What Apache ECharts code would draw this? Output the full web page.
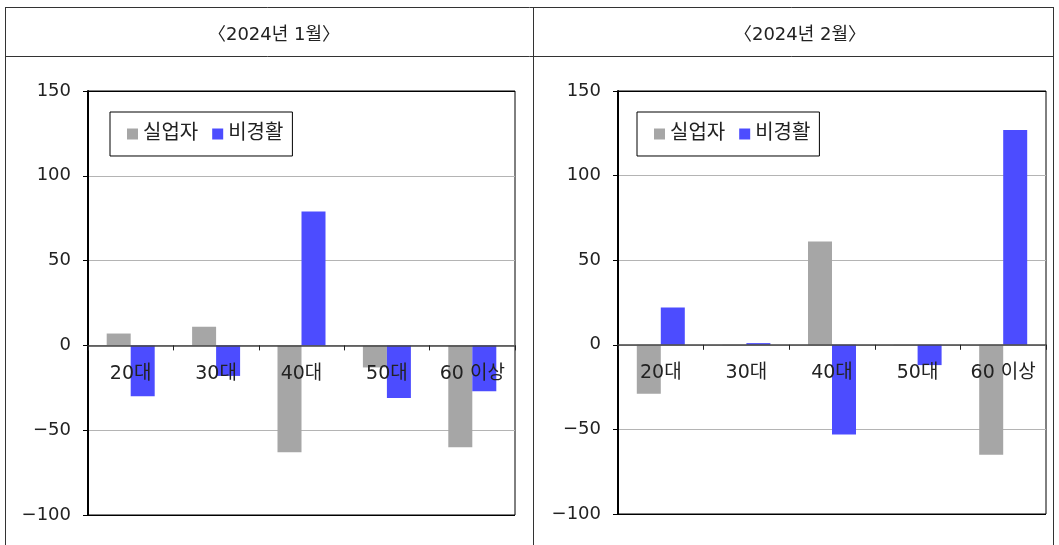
<!DOCTYPE html>
<html>
<head>
<meta charset="utf-8">
<script src="https://cdn.jsdelivr.net/npm/echarts@6/dist/echarts.min.js"></script>
<style>
  html, body { margin: 0; padding: 0; background: #fff; }
  #main { width: 1059px; height: 545px; }
</style>
</head>
<body>
<div id="main"></div>
<script>
// 연령대별 증감 (천명)
const categories = ['20대', '30대', '40대', '50대', '60 이상'];
const seriesNames = ['실업자', '비경활'];
const panelTitles = ['〈2024년 1월〉', '〈2024년 2월〉'];

const janUnemployed = [7, 11, -63, -13, -60];
const janInactive = [-30, -18, 79, -31, -27];
const febUnemployed = [-29, -0.6, 61, -0.6, -65];
const febInactive = [22, 1, -53, -12, 127];

const yMin = -100;
const yMax = 150;
const yStep = 50;

const FONT = '"DejaVu Sans", "Noto Sans CJK KR", sans-serif';
const GRAY = '#a6a6a6';
const BLUE = '#4c4cff';

// 두 패널의 그리드
const grids = [
  { left: 88, top: 91, width: 427, height: 424 },
  { left: 618, top: 91, width: 428, height: 423 }
];

function fmtY(v) {
  return v < 0 ? '\u2212' + (-v) : String(v);
}

function makeX(i) {
  // 가로축은 0 위치에 (v6 에서는 onZero 시 라벨이 아래에 남음)
  const zeroOffset = -grids[i].height * (0 - yMin) / (yMax - yMin);
  return {
    type: 'category',
    gridIndex: i,
    data: categories,
    position: 'bottom',
    offset: zeroOffset,
    z: 10,
    axisLine: { onZero: false, lineStyle: { color: '#444', width: 1.5 } },
    axisTick: { show: true, length: 5, inside: false, lineStyle: { color: '#222' } },
    axisLabel: { margin: 19, fontSize: 19, color: '#222', fontFamily: FONT, interval: 0 }
  }
}

function makeY(i) {
  return {
    type: 'value',
    gridIndex: i,
    min: yMin,
    max: yMax,
    interval: yStep,
    axisLine: { show: true, lineStyle: { color: '#000', width: 2 } },
    axisTick: { show: true, length: 5, lineStyle: { color: '#000' } },
    axisLabel: { margin: 17, fontSize: 18, color: '#222', fontFamily: FONT, formatter: fmtY },
    splitLine: {
      show: true,
      lineStyle: { color: ['#000', '#b4b4b4', '#b4b4b4', '#b4b4b4', '#b4b4b4', '#000'], width: 1 }
    }
  }
}

function makeLegend(left) {
  return {
    left: left,
    top: 112,
    orient: 'horizontal',
    data: seriesNames,
    icon: 'rect',
    itemWidth: 11,
    itemHeight: 11,
    itemGap: 14,
    padding: [12, 9, 12, 17],
    borderColor: '#000',
    borderWidth: 1,
    backgroundColor: '#fff',
    textStyle: { fontSize: 20, color: '#222', fontFamily: FONT }
  }
}

function makeBar(name, color, idx, values) {
  return {
    name: name,
    type: 'bar',
    xAxisIndex: idx,
    yAxisIndex: idx,
    data: values,
    barWidth: 24,
    barGap: '0%',
    itemStyle: { color: color },
    animation: false
  }
}

const tableLines = [
  [5, 7.5, 1054, 7.5],
  [5, 56.5, 1054, 56.5],
  [5.5, 7, 5.5, 545],
  [533.5, 7, 533.5, 545],
  [1053.5, 7, 1053.5, 545]
].map(function (p) {
  return {
    type: 'line',
    shape: { x1: p[0], y1: p[1], x2: p[2], y2: p[3] },
    style: { stroke: '#333', lineWidth: 1 },
    silent: true
  }
});

let myChart = echarts.init(document.getElementById('main'), null, { renderer: 'canvas' });
myChart.setOption({
  animation: false,
  backgroundColor: '#fff',
  textStyle: { fontFamily: FONT },
  title: [
    { text: panelTitles[0], left: 269, top: 21, textAlign: 'center',
      textStyle: { fontSize: 18, fontWeight: 'normal', color: '#222', fontFamily: FONT } },
    { text: panelTitles[1], left: 795, top: 21, textAlign: 'center',
      textStyle: { fontSize: 18, fontWeight: 'normal', color: '#222', fontFamily: FONT } }
  ],
  legend: [makeLegend(110), makeLegend(637)],
  grid: grids.map(function (g) {
    return Object.assign({
      show: true, borderColor: '#000', borderWidth: 1,
      backgroundColor: 'transparent', outerBoundsMode: 'none', containLabel: false
    }, g);
  }),
  xAxis: [makeX(0), makeX(1)],
  yAxis: [makeY(0), makeY(1)],
  series: [
    makeBar(seriesNames[0], GRAY, 0, janUnemployed),
    makeBar(seriesNames[1], BLUE, 0, janInactive),
    makeBar(seriesNames[0], GRAY, 1, febUnemployed),
    makeBar(seriesNames[1], BLUE, 1, febInactive)
  ],
  graphic: tableLines
});
</script>
</body>
</html>
